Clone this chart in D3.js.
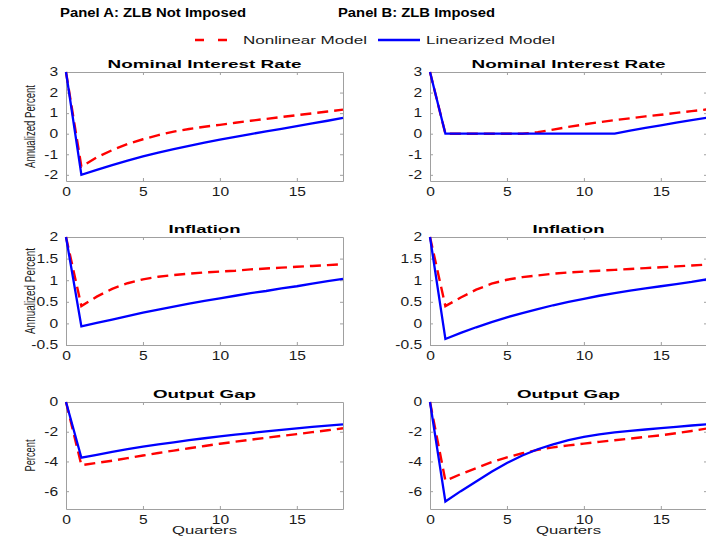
<!DOCTYPE html>
<html>
<head>
<meta charset="utf-8">
<script src="https://cdn.jsdelivr.net/npm/d3@7"></script>
<style>
  body { margin: 0; background: #fff; }
  svg text { font-family: "Liberation Sans", Arial, sans-serif; fill: #1a1a1a; }
  .axis path, .axis line { stroke: #a0a0a0; stroke-width: 1; }
  .ttl { font-weight: bold; fill: #000; }
</style>
</head>
<body>
<div id="chart"></div>
<script>

// quarters after the shock
var quarters = [0, 1, 2, 3, 4, 5, 6, 7, 8, 9, 10, 11, 12, 13, 14, 15, 16, 17, 18];
var xTicks = [0, 5, 10, 15];

var rateTicks = [-2, -1, 0, 1, 2, 3];
var inflTicks = [-0.5, 0, 0.5, 1, 1.5, 2];
var gapTicks = [-6, -4, -2, 0];

// Panel A: ZLB not imposed
var rateNonlinA = [3, -1.6, -1.15, -0.8, -0.5, -0.27, -0.07, 0.1, 0.23, 0.34, 0.43, 0.53, 0.63, 0.72, 0.81, 0.9, 0.99, 1.08, 1.17];
var rateLinA = [3, -2, -1.76, -1.53, -1.31, -1.1, -0.92, -0.75, -0.59, -0.44, -0.29, -0.15, -0.02, 0.11, 0.24, 0.37, 0.5, 0.63, 0.77];
var inflNonlinA = [2, 0.4, 0.62, 0.8, 0.93, 1.02, 1.08, 1.12, 1.15, 1.18, 1.2, 1.22, 1.25, 1.27, 1.29, 1.31, 1.33, 1.35, 1.37];
var inflLinA = [2, -0.07, 0.01, 0.09, 0.17, 0.25, 0.32, 0.39, 0.46, 0.52, 0.58, 0.64, 0.7, 0.75, 0.81, 0.86, 0.92, 0.98, 1.03];
var gapNonlinA = [0, -4.25, -4.1, -3.95, -3.78, -3.6, -3.43, -3.27, -3.11, -2.96, -2.81, -2.67, -2.54, -2.41, -2.28, -2.16, -2.03, -1.9, -1.77];
var gapLinA = [0, -3.75, -3.55, -3.36, -3.17, -3.0, -2.85, -2.71, -2.57, -2.44, -2.31, -2.2, -2.09, -1.98, -1.88, -1.78, -1.68, -1.59, -1.5];

// Panel B: ZLB imposed
var rateNonlinB = [3, 0, 0, 0, 0, 0, 0, 0.07, 0.2, 0.33, 0.45, 0.56, 0.66, 0.75, 0.84, 0.92, 1.01, 1.1, 1.18];
var rateLinB = [3, 0, 0, 0, 0, 0, 0, 0, 0, 0, 0, 0, 0, 0.15, 0.28, 0.41, 0.54, 0.66, 0.78];
var inflNonlinB = [2, 0.4, 0.6, 0.78, 0.92, 1.01, 1.07, 1.11, 1.15, 1.18, 1.2, 1.22, 1.24, 1.26, 1.28, 1.3, 1.32, 1.34, 1.36];
var inflLinB = [2, -0.36, -0.22, -0.09, 0.03, 0.14, 0.24, 0.33, 0.42, 0.5, 0.57, 0.64, 0.7, 0.76, 0.81, 0.86, 0.91, 0.96, 1.02];
var gapNonlinB = [0, -5.3, -4.85, -4.45, -4.05, -3.72, -3.45, -3.22, -3.05, -2.92, -2.8, -2.68, -2.57, -2.46, -2.35, -2.24, -2.1, -1.95, -1.78];
var gapLinB = [0, -6.7, -6.0, -5.35, -4.7, -4.1, -3.6, -3.18, -2.85, -2.57, -2.35, -2.18, -2.05, -1.95, -1.85, -1.76, -1.67, -1.58, -1.5];

var red = "#ff0000";
var blue = "#0000ff";
var sx = 1.3; // the picture's text is drawn wide

var svg = d3.select("#chart").append("svg")
  .attr("width", 706)
  .attr("height", 537);

var cols = [{ x0: 66, x1: 343 }, { x0: 430, x1: 707 }];
var rows = [
  { y0: 72, y1: 181, domain: [-2.3, 3], ticks: rateTicks, title: "Nominal Interest Rate", tw: 194, ylab: "Annualized Percent", yl: 83 },
  { y0: 237, y1: 345, domain: [-0.5, 2], ticks: inflTicks, title: "Inflation", tw: 72, ylab: "Annualized Percent", yl: 86 },
  { y0: 402, y1: 509, domain: [-7.2, 0], ticks: gapTicks, title: "Output Gap", tw: 103, ylab: "Percent", yl: 32 }
];

var series = [
  [[rateNonlinA, rateLinA], [rateNonlinB, rateLinB]],
  [[inflNonlinA, inflLinA], [inflNonlinB, inflLinB]],
  [[gapNonlinA, gapLinA], [gapNonlinB, gapLinB]]
];

function Subplot(row, col, data, r, c) {
  var p = this;
  p.x = d3.scaleLinear().domain([0, 18]).range([col.x0, col.x1]);
  p.y = d3.scaleLinear().domain(row.domain).range([row.y1, row.y0]);

  var g = svg.append("g");

  g.append("g").attr("class", "axis")
    .attr("transform", "translate(0," + row.y1 + ")")
    .call(d3.axisBottom(p.x).tickValues(xTicks).tickSize(-3).tickSizeOuter(0).tickPadding(6.5))
    .selectAll("text").style("font-size", "12px")
      .attr("transform", "scale(" + sx + ",1)");

  g.append("g").attr("class", "axis")
    .attr("transform", "translate(0," + row.y0 + ")")
    .call(d3.axisTop(p.x).tickValues(xTicks).tickSize(-3).tickSizeOuter(0).tickFormat(""));

  g.append("g").attr("class", "axis")
    .attr("transform", "translate(" + col.x0 + ",0)")
    .call(d3.axisLeft(p.y).tickValues(row.ticks).tickSize(-3).tickSizeOuter(0).tickPadding(6).tickFormat(function (d) { return String(d); }))
    .selectAll("text").style("font-size", "12px")
      .attr("transform", "scale(" + sx + ",1)");

  g.append("g").attr("class", "axis")
    .attr("transform", "translate(" + col.x1 + ",0)")
    .call(d3.axisRight(p.y).tickValues(row.ticks).tickSize(-3).tickSizeOuter(0).tickFormat(""));

  g.selectAll(".axis text").attr("fill", "#1a1a1a");

  var line = d3.line()
    .x(function (d, i) { return p.x(quarters[i]); })
    .y(function (d) { return p.y(d); });

  g.append("path")
    .attr("d", line(data[0]))
    .attr("fill", "none")
    .attr("stroke", red)
    .attr("stroke-width", 2.4)
    .attr("stroke-dasharray", "11,6");

  g.append("path")
    .attr("d", line(data[1]))
    .attr("fill", "none")
    .attr("stroke", blue)
    .attr("stroke-width", 2.3);

  g.append("text").attr("class", "ttl")
    .attr("x", (col.x0 + col.x1) / 2)
    .attr("y", row.y0 - 4.5)
    .attr("text-anchor", "middle")
    .style("font-size", "11.5px")
    .attr("textLength", row.tw)
    .attr("lengthAdjust", "spacingAndGlyphs")
    .text(row.title);

  if (c === 0) {
    g.append("text")
      .attr("transform", "translate(35," + ((row.y0 + row.y1) / 2) + ") scale(1.35,1) rotate(-90)")
      .attr("text-anchor", "middle")
      .style("font-size", "11.5px")
      .attr("textLength", row.yl)
      .attr("lengthAdjust", "spacingAndGlyphs")
      .text(row.ylab);
  }

  if (r === 2) {
    g.append("text")
      .attr("x", (col.x0 + col.x1) / 2)
      .attr("y", 534)
      .attr("text-anchor", "middle")
      .style("font-size", "11.5px")
      .attr("textLength", 65)
      .attr("lengthAdjust", "spacingAndGlyphs")
      .text("Quarters");
  }
}

rows.forEach(function (row, r) {
  cols.forEach(function (col, c) {
    new Subplot(row, col, series[r][c], r, c);
  });
});

// panel headings
svg.append("text").attr("class", "ttl")
  .attr("x", 153).attr("y", 16.5)
  .attr("text-anchor", "middle")
  .style("font-size", "13.5px")
  .attr("textLength", 186).attr("lengthAdjust", "spacingAndGlyphs")
  .text("Panel A: ZLB Not Imposed");

svg.append("text").attr("class", "ttl")
  .attr("x", 416.5).attr("y", 16.5)
  .attr("text-anchor", "middle")
  .style("font-size", "13.5px")
  .attr("textLength", 157).attr("lengthAdjust", "spacingAndGlyphs")
  .text("Panel B: ZLB Imposed");

// legend
var legend = svg.append("g");

legend.append("line")
  .attr("x1", 195).attr("x2", 231).attr("y1", 40).attr("y2", 40)
  .attr("stroke", red).attr("stroke-width", 2.3)
  .attr("stroke-dasharray", "9,14");

legend.append("text")
  .attr("x", 243).attr("y", 44)
  .style("font-size", "11px")
  .attr("textLength", 124).attr("lengthAdjust", "spacingAndGlyphs")
  .text("Nonlinear Model");

legend.append("line")
  .attr("x1", 378).attr("x2", 420).attr("y1", 40).attr("y2", 40)
  .attr("stroke", blue).attr("stroke-width", 2.3);

legend.append("text")
  .attr("x", 426).attr("y", 44)
  .style("font-size", "11px")
  .attr("textLength", 129).attr("lengthAdjust", "spacingAndGlyphs")
  .text("Linearized Model");

</script>
</body>
</html>
